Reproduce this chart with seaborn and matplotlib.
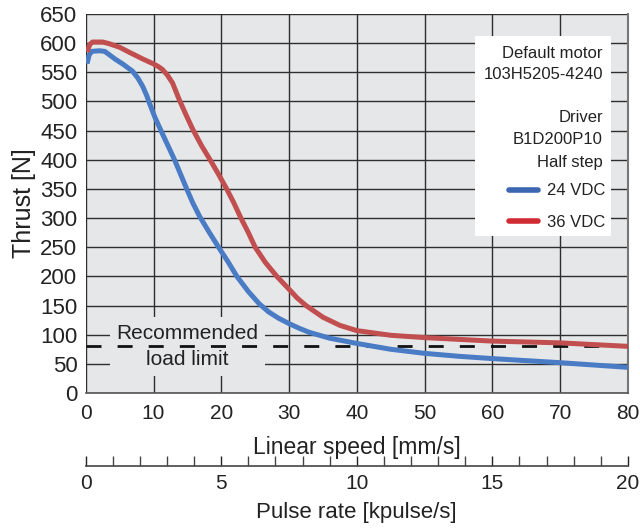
import numpy as np
import pandas as pd
import matplotlib
matplotlib.use("Agg")
import matplotlib.pyplot as plt
from matplotlib.ticker import MultipleLocator
from matplotlib.lines import Line2D
from matplotlib.patches import Rectangle
import seaborn as sns

# ---- data ----
speed_24 = [0.2, 0.5, 0.9, 2.0, 2.8, 3.5, 4.3, 5.5, 6.9, 7.7, 8.4, 9.0, 9.4, 10.2,
            11.1, 12.1, 13.1, 14.0, 14.9, 15.8, 16.8, 18.2, 19.6, 21.0, 22.3, 24.0,
            25.6, 27.0, 28.5, 30.0, 31.5, 33.0, 36.0, 40, 45, 50, 55, 60, 70, 80]
thrust_24 = [565, 580, 586, 587, 586, 580, 573, 564, 552, 540, 526, 510, 497, 473,
             450, 425, 400, 375, 350, 326, 303, 276, 250, 225, 200, 174,
             153, 139, 128, 119, 111, 104, 94, 85, 75, 68, 63, 59, 52, 44]

speed_36 = [0.2, 0.6, 1.0, 2.5, 3.5, 5.0, 6.5, 8.4, 9.9, 10.7, 11.3, 12.0, 12.8,
            13.8, 14.8, 15.8, 17.1, 18.4, 19.6, 20.8, 21.9, 22.9, 24.0, 25.0, 26.5,
            28.2, 30.0, 31.2, 32.5, 35, 37.5, 40, 45, 50, 55, 60, 70, 80]
thrust_36 = [585, 598, 602, 602, 599, 593, 584, 573, 565, 560, 555, 546, 532,
             503, 477, 452, 424, 399, 375, 350, 325, 300, 275, 250, 224,
             200, 178, 163, 150, 130, 116, 107, 99, 95, 92, 89, 86, 80]

series_labels = ["24 VDC", "36 VDC"]
load_limit = 80
info_lines = ["Default motor", "103H5205-4240", "Driver", "B1D200P10", "Half step"]
x_ticks = list(range(0, 81, 10))
y_ticks = list(range(0, 651, 50))
pulse_ticks = list(range(0, 21, 5))

df = pd.concat([
    pd.DataFrame({"speed": speed_24, "thrust": thrust_24, "supply": series_labels[0]}),
    pd.DataFrame({"speed": speed_36, "thrust": thrust_36, "supply": series_labels[1]}),
])

sns.set_style("white")
plt.rcParams["font.family"] = ["Liberation Sans", "DejaVu Sans"]

BG = "#e6e7e9"
GRID = "#2e2e2e"
line_colors = {"24 VDC": "#4a7cc6", "36 VDC": "#c24f50"}
legend_colors = ["#3b66b2", "#d02a33"]

fig = plt.figure(figsize=(6.4, 5.3), dpi=100)
ax = fig.add_axes([0.134, 0.2585, 0.847, 0.715])
ax.set_facecolor(BG)

sns.lineplot(data=df, x="speed", y="thrust", hue="supply", palette=line_colors,
             ax=ax, linewidth=3.6, legend=False, sort=False, zorder=5)
for ln in ax.get_lines():
    ln.set_solid_joinstyle("round")
    ln.set_solid_capstyle("butt")

ax.set_xlim(0, 80)
ax.set_ylim(0, 650)
ax.set_xticks(x_ticks)
ax.set_yticks(y_ticks)
ax.grid(True, color=GRID, linewidth=1.0, zorder=1)
ax.set_axisbelow(True)
ax.tick_params(axis="both", length=0)
ax.tick_params(axis="x", labelsize=15, pad=8, colors="#222222")
ax.tick_params(axis="y", labelsize=16, pad=6, colors="#222222")
for s in ["top", "left"]:
    ax.spines[s].set_visible(False)
ax.spines["bottom"].set_color("#555555")
ax.spines["bottom"].set_linewidth(1.2)
ax.spines["right"].set_color("#777777")
ax.spines["right"].set_linewidth(1.5)

ax.set_xlabel("Linear speed [mm/s]", fontsize=16.5, labelpad=9, color="#222222")
ax.set_ylabel("Thrust [N]", fontsize=18, labelpad=3, color="#222222")

# recommended load limit
ax.axhline(load_limit, color="#111111", linewidth=2.0, dashes=(5.4, 5.8), zorder=4)
ax.text(15, load_limit, "Recommended\nload limit", ha="center", va="center",
        fontsize=15, linespacing=1.45, color="#222222", zorder=3,
        bbox=dict(facecolor=BG, edgecolor="none", pad=5))

# info box
ax.add_patch(Rectangle((0.718, 0.414), 0.251, 0.528, transform=ax.transAxes,
                       facecolor="white", edgecolor="none", zorder=6))
info_y = [0.896, 0.840, 0.726, 0.668, 0.607]
for t, yy in zip(info_lines, info_y):
    ax.text(0.954, yy, t, transform=ax.transAxes, ha="right", va="center",
            fontsize=12, color="#222222", zorder=7)

handles = [Line2D([], [], color=c, linewidth=4) for c in legend_colors]
leg = ax.legend(handles, series_labels, loc="upper right",
                bbox_to_anchor=(0.958, 0.553), frameon=False, fontsize=12,
                handlelength=1.75, handletextpad=0.5, labelspacing=1.0,
                borderpad=0, borderaxespad=0)
leg.set_zorder(8)
for t in leg.get_texts():
    t.set_color("#222222")

# secondary pulse-rate axis
sec = ax.secondary_xaxis(-0.193, functions=(lambda s: s / 4.0, lambda p: p * 4.0))
sec.set_xticks(pulse_ticks)
sec.xaxis.set_minor_locator(MultipleLocator(1))
sec.tick_params(which="both", direction="in", length=7, width=1.0, color="#444444")
sec.tick_params(axis="x", labelsize=15, pad=6, colors="#222222")
sec.tick_params(which="minor", colors="#444444")
sec.spines["bottom"].set_color("#444444")
sec.spines["bottom"].set_linewidth(1.2)
sec.set_xlabel("Pulse rate [kpulse/s]", fontsize=16, labelpad=6, color="#222222")

fig.savefig("out.png", dpi=100)
